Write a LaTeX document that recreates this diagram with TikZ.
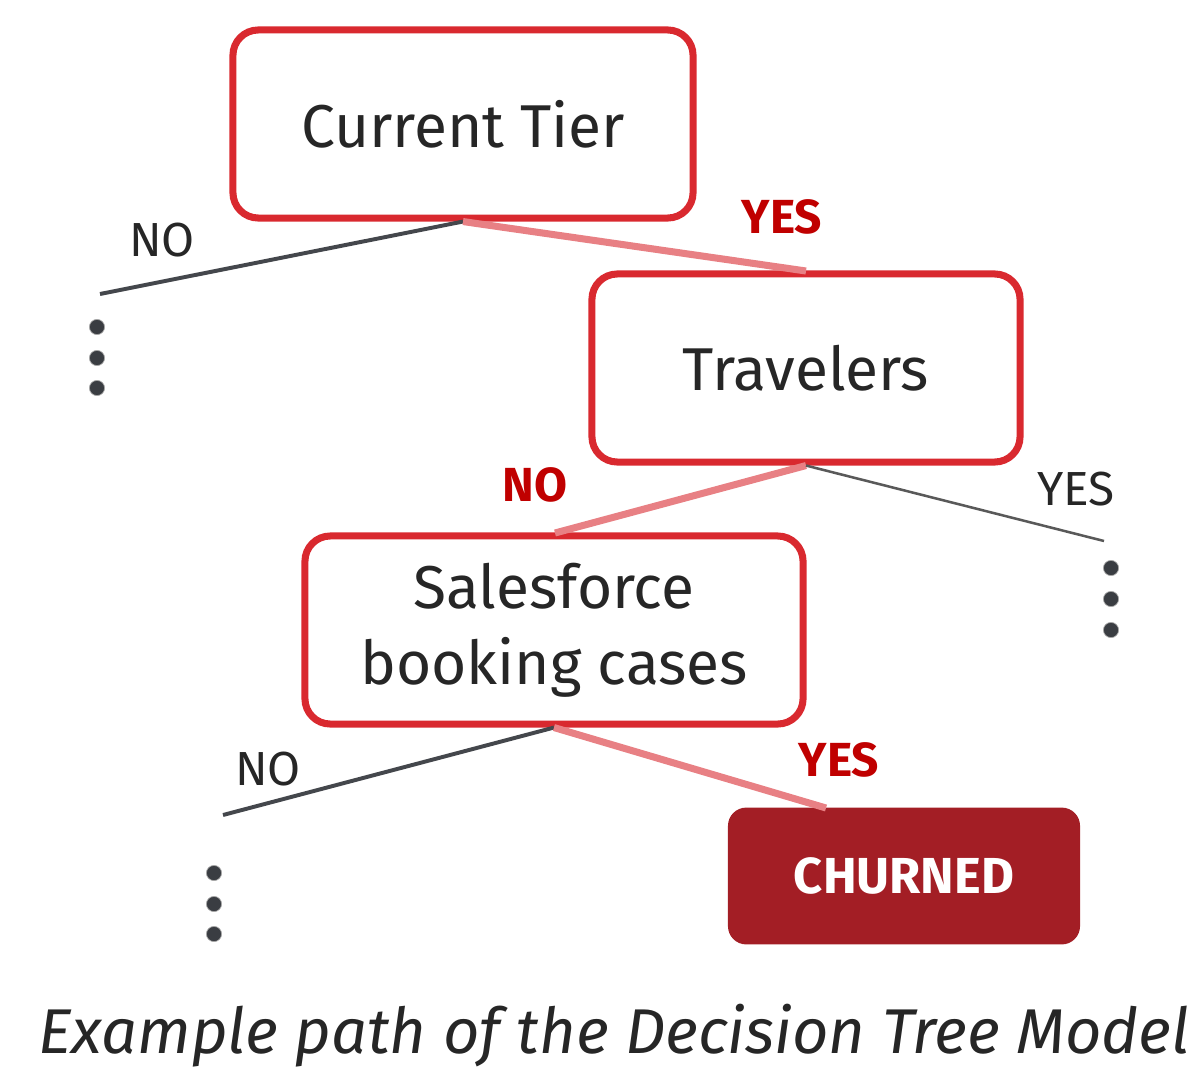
\documentclass[tikz,border=0pt]{standalone}
\usepackage{fontspec}
\setmainfont{Fira Sans}
\usepackage{xcolor}
\usetikzlibrary{positioning}
\definecolor{boxred}{HTML}{D9292F}
\definecolor{pathred}{HTML}{E88084}
\definecolor{labred}{HTML}{C00000}
\definecolor{leafred}{HTML}{A31E25}
\definecolor{branch}{HTML}{44474C}
\definecolor{dotgray}{HTML}{3A3D42}

\begin{document}
\begin{tikzpicture}[
  x=0.025cm, y=-0.025cm,
  split/.style={rounded corners=18pt, draw=boxred, line width=5pt, fill=white,
                align=center, inner sep=0pt, text=black!85,
                font=\fontsize{43}{54}\selectfont},
  leaf/.style={rounded corners=13pt, fill=leafred, text=white, inner sep=0pt,
               minimum width=8.8cm, minimum height=3.42cm,
               font=\fontsize{36}{40}\selectfont\bfseries},
  lab/.style={font=\fontsize{34}{40}\selectfont, text=black!85},
  hot/.style={font=\fontsize{34}{40}\selectfont\bfseries, text=labred},
  path/.style={draw=pathred, line width=5pt},
  other/.style={draw=branch, line width=2.8pt},
  dot/.style={circle, fill=dotgray, draw=gray!70, line width=0.5pt,
              minimum size=0.38cm, inner sep=0pt}
]
  \useasboundingbox (0,0) rectangle (1203,1066);

  % decision nodes
  \node[split, minimum width=11.5cm, minimum height=4.7cm] (tier) at (463,124) {Current Tier};
  \node[split, minimum width=10.7cm, minimum height=4.7cm] (travelers) at (806,368) {Travelers};
  \node[split, minimum width=12.45cm, minimum height=4.7cm] (salesforce) at (554,630) {Salesforce\\booking cases};
  \node[leaf] (churned) at (904,876) {CHURNED};

  % open branch ends
  \coordinate (tierno) at (100,294);
  \coordinate (travyes) at (1104,541);
  \coordinate (salesno) at (223,815);
  \coordinate (travtop) at (806,271);
  \coordinate (salestop) at (555,533);
  \coordinate (churntop) at (826,808);

  % branches
  \draw[other] (tier.south) -- (tierno);
  \draw[path] (tier.south) -- (travtop);
  \draw[path] (travelers.south) -- (salestop);
  \draw[draw=black!65, line width=1.8pt] (travelers.south) -- (travyes);
  \draw[other] (salesforce.south) -- (salesno);
  \draw[path] (salesforce.south) -- (churntop);

  % branch labels
  \node[lab] (no1) at (162,240) {NO};
  \node[hot] (yes1) at (782,217) {YES};
  \node[hot] (no2) at (535,485) {NO};
  \node[lab] (yes2) at (1076,489) {YES};
  \node[lab] (no3) at (268,769) {NO};
  \node[hot] (yes3) at (839,760) {YES};

  % continuation dots
  \foreach \n/\x/\y in {a/97/327, b/97/358, c/97/388,
                        d/1111/568, e/1111/599, f/1111/630,
                        g/214/873, h/214/904, i/214/934}
    \node[dot] (dot\n) at (\x,\y) {};

  % caption
  \node[font=\fontsize{45}{50}\selectfont\itshape, text=black!85] (caption) at (614,1036)
    {Example path of the Decision Tree Model};
\end{tikzpicture}
\end{document}
